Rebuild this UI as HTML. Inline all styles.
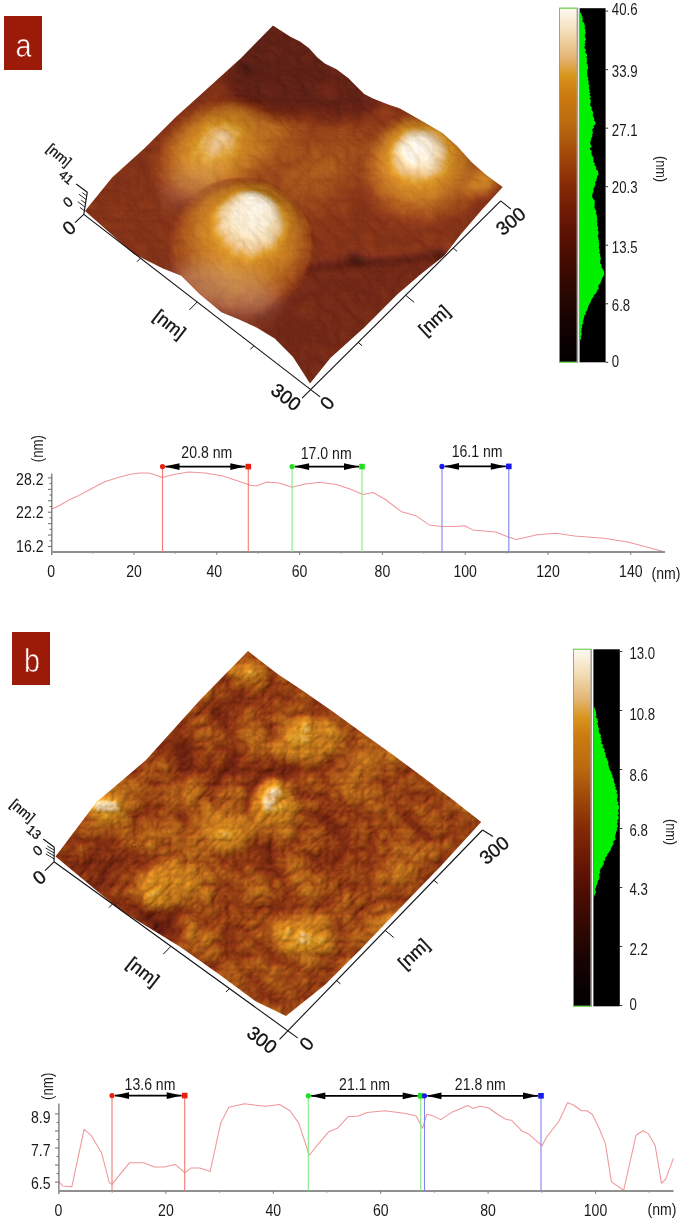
<!DOCTYPE html><html><head><meta charset="utf-8"><style>html,body{margin:0;padding:0;background:#fff}body{width:685px;height:1220px;overflow:hidden}svg{display:block;will-change:transform}text{font-family:"Liberation Sans",sans-serif}</style></head><body>
<svg width="685" height="1220" viewBox="0 0 685 1220">
<defs>
<linearGradient id="cbg" x1="0" y1="0" x2="0" y2="1">
<stop offset="0.000" stop-color="#fefaf2"/>
<stop offset="0.070" stop-color="#f2dcb4"/>
<stop offset="0.140" stop-color="#e4b474"/>
<stop offset="0.190" stop-color="#d8961c"/>
<stop offset="0.240" stop-color="#cc7c10"/>
<stop offset="0.330" stop-color="#bb6a10"/>
<stop offset="0.410" stop-color="#a24a0a"/>
<stop offset="0.500" stop-color="#862a06"/>
<stop offset="0.615" stop-color="#621404"/>
<stop offset="0.700" stop-color="#480c02"/>
<stop offset="0.785" stop-color="#300802"/>
<stop offset="0.870" stop-color="#180402"/>
<stop offset="0.960" stop-color="#080101"/>
<stop offset="1.000" stop-color="#040000"/>
</linearGradient>
<filter id="fa" x="0" y="0" width="685" height="1220" filterUnits="userSpaceOnUse" color-interpolation-filters="sRGB">
<feTurbulence type="turbulence" baseFrequency="0.05" numOctaves="4" seed="7" result="n"/>
<feColorMatrix in="n" type="matrix" values="1 0 0 0 0 1 0 0 0 0 1 0 0 0 0 0 0 0 0 1" result="ng"/>
<feTurbulence type="fractalNoise" baseFrequency="0.012 0.5" numOctaves="2" seed="10" result="s"/>
<feColorMatrix in="s" type="matrix" values="0 1 0 0 0 0 1 0 0 0 0 1 0 0 0 0 0 0 0 1" result="sg"/>
<feComposite in="SourceGraphic" in2="ng" operator="arithmetic" k1="0" k2="1" k3="0.07" k4="-0.0231" result="h1"/>
<feTurbulence type="turbulence" baseFrequency="0.08" numOctaves="2" seed="14" result="n2"/>
<feColorMatrix in="n2" type="matrix" values="1 0 0 0 0 1 0 0 0 0 1 0 0 0 0 0 0 0 0 1" result="ng2"/>
<feComposite in="h1" in2="ng2" operator="arithmetic" k1="0" k2="1" k3="0" k4="-0" result="h1b"/>
<feComposite in="h1b" in2="sg" operator="arithmetic" k1="0" k2="1" k3="0" k4="-0" result="h"/>
<feColorMatrix in="h" type="matrix" values="0 0 0 0 0 0 0 0 0 0 0 0 0 0 0 1 0 0 0 0" result="ha"/>
<feDiffuseLighting in="ha" surfaceScale="4" diffuseConstant="1" lighting-color="#ffffff" result="L"><feDistantLight azimuth="135" elevation="55"/></feDiffuseLighting>
<feComponentTransfer in="h" result="c"><feFuncR type="table" tableValues="0.016 0.025 0.038 0.056 0.073 0.091 0.116 0.144 0.172 0.199 0.227 0.255 0.282 0.312 0.342 0.372 0.403 0.433 0.464 0.495 0.525 0.556 0.586 0.617 0.648 0.678 0.709 0.737 0.756 0.774 0.793 0.814 0.838 0.861 0.885 0.906 0.925 0.945 0.962 0.979 0.996"/><feFuncG type="table" tableValues="0.000 0.002 0.005 0.008 0.012 0.015 0.019 0.024 0.029 0.033 0.038 0.042 0.047 0.056 0.066 0.075 0.090 0.108 0.127 0.146 0.165 0.200 0.234 0.269 0.306 0.345 0.384 0.420 0.439 0.459 0.478 0.517 0.568 0.624 0.682 0.739 0.796 0.852 0.896 0.938 0.980"/><feFuncB type="table" tableValues="0.000 0.002 0.004 0.005 0.007 0.008 0.008 0.008 0.008 0.008 0.008 0.008 0.008 0.010 0.012 0.015 0.017 0.018 0.020 0.022 0.024 0.028 0.032 0.037 0.042 0.050 0.057 0.063 0.063 0.063 0.063 0.077 0.100 0.213 0.386 0.509 0.598 0.688 0.775 0.862 0.949"/></feComponentTransfer>
<feComposite in="c" in2="L" operator="arithmetic" k1="0.9546" k2="0.1380" k3="0.3500" k4="-0.2117" result="m"/>
<feComponentTransfer in="m"><feFuncA type="linear" slope="0" intercept="1"/></feComponentTransfer>
</filter>
<filter id="fb" x="0" y="0" width="685" height="1220" filterUnits="userSpaceOnUse" color-interpolation-filters="sRGB">
<feTurbulence type="turbulence" baseFrequency="0.022" numOctaves="4" seed="11" result="n"/>
<feColorMatrix in="n" type="matrix" values="1 0 0 0 0 1 0 0 0 0 1 0 0 0 0 0 0 0 0 1" result="ng"/>
<feTurbulence type="fractalNoise" baseFrequency="0.012 0.5" numOctaves="2" seed="14" result="s"/>
<feColorMatrix in="s" type="matrix" values="0 1 0 0 0 0 1 0 0 0 0 1 0 0 0 0 0 0 0 1" result="sg"/>
<feComposite in="SourceGraphic" in2="ng" operator="arithmetic" k1="0" k2="1" k3="0.26" k4="-0.0858" result="h1"/>
<feTurbulence type="turbulence" baseFrequency="0.07" numOctaves="2" seed="18" result="n2"/>
<feColorMatrix in="n2" type="matrix" values="1 0 0 0 0 1 0 0 0 0 1 0 0 0 0 0 0 0 0 1" result="ng2"/>
<feComposite in="h1" in2="ng2" operator="arithmetic" k1="0" k2="1" k3="0.14" k4="-0.0462" result="h1b"/>
<feComposite in="h1b" in2="sg" operator="arithmetic" k1="0" k2="1" k3="0" k4="-0" result="h"/>
<feColorMatrix in="h" type="matrix" values="0 0 0 0 0 0 0 0 0 0 0 0 0 0 0 1 0 0 0 0" result="ha"/>
<feDiffuseLighting in="ha" surfaceScale="4" diffuseConstant="1" lighting-color="#ffffff" result="L"><feDistantLight azimuth="225" elevation="50"/></feDiffuseLighting>
<feComponentTransfer in="h" result="c"><feFuncR type="table" tableValues="0.016 0.025 0.038 0.056 0.073 0.091 0.116 0.144 0.172 0.199 0.227 0.255 0.282 0.312 0.342 0.372 0.403 0.433 0.464 0.495 0.525 0.556 0.586 0.617 0.648 0.678 0.709 0.737 0.756 0.774 0.793 0.814 0.838 0.861 0.885 0.906 0.925 0.945 0.962 0.979 0.996"/><feFuncG type="table" tableValues="0.000 0.002 0.005 0.008 0.012 0.015 0.019 0.024 0.029 0.033 0.038 0.042 0.047 0.056 0.066 0.075 0.090 0.108 0.127 0.146 0.165 0.200 0.234 0.269 0.306 0.345 0.384 0.420 0.439 0.459 0.478 0.517 0.568 0.624 0.682 0.739 0.796 0.852 0.896 0.938 0.980"/><feFuncB type="table" tableValues="0.000 0.002 0.004 0.005 0.007 0.008 0.008 0.008 0.008 0.008 0.008 0.008 0.008 0.010 0.012 0.015 0.017 0.018 0.020 0.022 0.024 0.028 0.032 0.037 0.042 0.050 0.057 0.063 0.063 0.063 0.063 0.077 0.100 0.213 0.386 0.509 0.598 0.688 0.775 0.862 0.949"/></feComponentTransfer>
<feComposite in="c" in2="L" operator="arithmetic" k1="1.2271" k2="0.0000" k3="0.2000" k4="-0.1032" result="m"/>
<feComponentTransfer in="m"><feFuncA type="linear" slope="0" intercept="1"/></feComponentTransfer>
</filter>
<filter id="stp" x="-50%" y="-50%" width="200%" height="200%" color-interpolation-filters="sRGB"><feTurbulence type="fractalNoise" baseFrequency="0.006 0.45" numOctaves="2" seed="4"/><feColorMatrix type="matrix" values="1 0 0 0 0 1 0 0 0 0 1 0 0 0 0 0 0 0 0 1"/></filter>
<filter id="b1" x="-100%" y="-100%" width="300%" height="300%"><feGaussianBlur stdDeviation="1"/></filter>
<filter id="b2" x="-100%" y="-100%" width="300%" height="300%"><feGaussianBlur stdDeviation="2"/></filter>
<filter id="b3" x="-100%" y="-100%" width="300%" height="300%"><feGaussianBlur stdDeviation="3"/></filter>
<filter id="b4" x="-100%" y="-100%" width="300%" height="300%"><feGaussianBlur stdDeviation="4"/></filter>
<filter id="b5" x="-100%" y="-100%" width="300%" height="300%"><feGaussianBlur stdDeviation="5"/></filter>
<filter id="b6" x="-100%" y="-100%" width="300%" height="300%"><feGaussianBlur stdDeviation="6"/></filter>
<filter id="b7" x="-100%" y="-100%" width="300%" height="300%"><feGaussianBlur stdDeviation="7"/></filter>
<filter id="b8" x="-100%" y="-100%" width="300%" height="300%"><feGaussianBlur stdDeviation="8"/></filter>
<filter id="b9" x="-100%" y="-100%" width="300%" height="300%"><feGaussianBlur stdDeviation="9"/></filter>
<filter id="b10" x="-100%" y="-100%" width="300%" height="300%"><feGaussianBlur stdDeviation="10"/></filter>
<filter id="b11" x="-100%" y="-100%" width="300%" height="300%"><feGaussianBlur stdDeviation="11"/></filter>
<filter id="b12" x="-100%" y="-100%" width="300%" height="300%"><feGaussianBlur stdDeviation="12"/></filter>
<filter id="b13" x="-100%" y="-100%" width="300%" height="300%"><feGaussianBlur stdDeviation="13"/></filter>
<filter id="b14" x="-100%" y="-100%" width="300%" height="300%"><feGaussianBlur stdDeviation="14"/></filter>
<filter id="b15" x="-100%" y="-100%" width="300%" height="300%"><feGaussianBlur stdDeviation="15"/></filter>
<filter id="b16" x="-100%" y="-100%" width="300%" height="300%"><feGaussianBlur stdDeviation="16"/></filter>
<filter id="b17" x="-100%" y="-100%" width="300%" height="300%"><feGaussianBlur stdDeviation="17"/></filter>
<filter id="b18" x="-100%" y="-100%" width="300%" height="300%"><feGaussianBlur stdDeviation="18"/></filter>
<filter id="b19" x="-100%" y="-100%" width="300%" height="300%"><feGaussianBlur stdDeviation="19"/></filter>
<filter id="b20" x="-100%" y="-100%" width="300%" height="300%"><feGaussianBlur stdDeviation="20"/></filter>
<filter id="b21" x="-100%" y="-100%" width="300%" height="300%"><feGaussianBlur stdDeviation="21"/></filter>
<filter id="b22" x="-100%" y="-100%" width="300%" height="300%"><feGaussianBlur stdDeviation="22"/></filter>
<filter id="b23" x="-100%" y="-100%" width="300%" height="300%"><feGaussianBlur stdDeviation="23"/></filter>
<filter id="b24" x="-100%" y="-100%" width="300%" height="300%"><feGaussianBlur stdDeviation="24"/></filter>
<filter id="b25" x="-100%" y="-100%" width="300%" height="300%"><feGaussianBlur stdDeviation="25"/></filter>
<filter id="b26" x="-100%" y="-100%" width="300%" height="300%"><feGaussianBlur stdDeviation="26"/></filter>
<filter id="b27" x="-100%" y="-100%" width="300%" height="300%"><feGaussianBlur stdDeviation="27"/></filter>
<filter id="b28" x="-100%" y="-100%" width="300%" height="300%"><feGaussianBlur stdDeviation="28"/></filter>
<filter id="b29" x="-100%" y="-100%" width="300%" height="300%"><feGaussianBlur stdDeviation="29"/></filter>
<filter id="b30" x="-100%" y="-100%" width="300%" height="300%"><feGaussianBlur stdDeviation="30"/></filter>
<clipPath id="ca"><polygon points="273.0,25.5 290.0,36.5 300.0,41.5 308.8,48.0 317.5,57.5 324.8,63.4 336.5,69.2 348.2,78.0 358.4,88.2 364.2,94.0 373.0,98.4 387.6,104.2 400.0,108.6 424.2,122.2 442.5,133.1 457.1,145.9 471.7,162.3 486.3,175.1 502.7,187.0 481.5,210.3 461.3,233.8 444.5,255.6 421.0,274.1 397.5,294.2 364.0,327.8 330.4,358.0 310.0,383.5 293.0,357.0 274.7,338.6 256.5,327.6 238.0,319.0 221.4,312.3 199.5,294.0 181.2,275.8 163.0,268.5 133.8,254.0 85.0,211.0 112.1,177.4 144.2,148.5 176.4,116.4 208.5,87.4 240.6,58.5"/></clipPath>
<clipPath id="cb"><polygon points="248.0,651.0 278.0,674.2 300.7,689.3 331.0,710.2 365.2,734.9 391.8,753.9 422.2,776.6 452.5,799.4 481.2,822.0 440.0,867.0 400.0,908.2 360.0,950.0 324.5,985.3 286.0,1016.0 255.5,1001.3 220.0,975.0 180.0,946.7 120.0,910.0 55.5,856.4 96.4,802.3 146.0,760.0 200.0,700.0"/></clipPath>
</defs>
<rect width="685" height="1220" fill="#fff"/>
<g clip-path="url(#ca)"><g filter="url(#fa)">
<rect x="60" y="0" width="470" height="400" fill="#787878"/>
<polygon points="70.0,215.0 240.0,45.0 255.0,62.0 140.0,175.0 100.0,228.0" fill="#737373" filter="url(#b8)"/>
<defs><radialGradient id="dg1" cx="0.5" cy="0.5" r="0.5" fx="0.5" fy="0.5"><stop offset="0" stop-color="#969696" stop-opacity="1.000"/><stop offset="0.1" stop-color="#969696" stop-opacity="0.976"/><stop offset="0.2" stop-color="#969696" stop-opacity="0.905"/><stop offset="0.3" stop-color="#969696" stop-opacity="0.794"/><stop offset="0.4" stop-color="#969696" stop-opacity="0.655"/><stop offset="0.5" stop-color="#969696" stop-opacity="0.500"/><stop offset="0.6" stop-color="#969696" stop-opacity="0.345"/><stop offset="0.7" stop-color="#969696" stop-opacity="0.206"/><stop offset="0.8" stop-color="#969696" stop-opacity="0.095"/><stop offset="0.9" stop-color="#969696" stop-opacity="0.024"/><stop offset="1" stop-color="#969696" stop-opacity="0.000"/></radialGradient></defs>
<ellipse cx="318" cy="170" rx="120" ry="62" fill="url(#dg1)" transform="rotate(-32 318 170)"/>
<defs><radialGradient id="dg2" cx="0.5" cy="0.5" r="0.5" fx="0.5" fy="0.5"><stop offset="0" stop-color="#adadad" stop-opacity="1.000"/><stop offset="0.4" stop-color="#a3a3a3" stop-opacity="0.900"/><stop offset="0.7" stop-color="#949494" stop-opacity="0.600"/><stop offset="1" stop-color="#858585" stop-opacity="0.000"/></radialGradient></defs>
<ellipse cx="242" cy="146" rx="100" ry="50" fill="url(#dg2)" transform="rotate(-25 242 146)"/>
<polygon points="273.0,5.0 385.0,98.0 360.0,116.0 290.0,114.0 240.0,104.0 222.0,62.0" fill="#575757" filter="url(#b8)"/>
<defs><radialGradient id="dg3" cx="0.5" cy="0.5" r="0.5" fx="0.5" fy="0.5"><stop offset="0" stop-color="#666666" stop-opacity="1.000"/><stop offset="0.1" stop-color="#666666" stop-opacity="0.976"/><stop offset="0.2" stop-color="#666666" stop-opacity="0.905"/><stop offset="0.3" stop-color="#666666" stop-opacity="0.794"/><stop offset="0.4" stop-color="#666666" stop-opacity="0.655"/><stop offset="0.5" stop-color="#666666" stop-opacity="0.500"/><stop offset="0.6" stop-color="#666666" stop-opacity="0.345"/><stop offset="0.7" stop-color="#666666" stop-opacity="0.206"/><stop offset="0.8" stop-color="#666666" stop-opacity="0.095"/><stop offset="0.9" stop-color="#666666" stop-opacity="0.024"/><stop offset="1" stop-color="#666666" stop-opacity="0.000"/></radialGradient></defs>
<ellipse cx="330" cy="88" rx="26" ry="16" fill="url(#dg3)" transform="rotate(-10 330 88)"/>
<polygon points="250.0,312.0 300.0,272.0 350.0,264.0 445.0,256.0 425.0,280.0 364.0,332.0 310.0,390.0 272.0,342.0" fill="#696969" filter="url(#b5)"/>
<polyline points="292,270 330,265 356,262 400,259 446,253" fill="none" stroke="#545454" stroke-width="7" filter="url(#b3)"/>
<polygon points="80.0,211.0 140.0,170.0 168.0,230.0 165.0,268.0 130.0,252.0" fill="#787878" filter="url(#b9)"/>
<defs><radialGradient id="dg4" cx="0.5" cy="0.5" r="0.5" fx="0.58" fy="0.42"><stop offset="0" stop-color="#e3e3e3" stop-opacity="1.000"/><stop offset="0.25" stop-color="#d4d4d4" stop-opacity="1.000"/><stop offset="0.5" stop-color="#bdbdbd" stop-opacity="0.900"/><stop offset="0.75" stop-color="#a8a8a8" stop-opacity="0.600"/><stop offset="1" stop-color="#999999" stop-opacity="0.000"/></radialGradient></defs>
<ellipse cx="214" cy="150" rx="70" ry="50" fill="url(#dg4)" transform="rotate(-30 214 150)"/>
<defs><radialGradient id="dg5" cx="0.5" cy="0.5" r="0.5" fx="0.6" fy="0.2"><stop offset="0" stop-color="#fefefe" stop-opacity="1.000"/><stop offset="0.24" stop-color="#f6f6f6" stop-opacity="1.000"/><stop offset="0.38" stop-color="#e3e3e3" stop-opacity="1.000"/><stop offset="0.5" stop-color="#c9c9c9" stop-opacity="1.000"/><stop offset="0.62" stop-color="#b2b2b2" stop-opacity="1.000"/><stop offset="0.77" stop-color="#9e9e9e" stop-opacity="1.000"/><stop offset="0.92" stop-color="#8f8f8f" stop-opacity="0.700"/><stop offset="1" stop-color="#858585" stop-opacity="0.000"/></radialGradient></defs>
<ellipse cx="242" cy="246" rx="74" ry="70" fill="url(#dg5)"/>
<defs><radialGradient id="dg6" cx="0.5" cy="0.5" r="0.5" fx="0.5" fy="0.28"><stop offset="0" stop-color="#fefefe" stop-opacity="1.000"/><stop offset="0.2" stop-color="#f6f6f6" stop-opacity="1.000"/><stop offset="0.34" stop-color="#e0e0e0" stop-opacity="1.000"/><stop offset="0.48" stop-color="#c7c7c7" stop-opacity="1.000"/><stop offset="0.62" stop-color="#b0b0b0" stop-opacity="0.950"/><stop offset="0.78" stop-color="#9c9c9c" stop-opacity="0.750"/><stop offset="0.9" stop-color="#8f8f8f" stop-opacity="0.400"/><stop offset="1" stop-color="#858585" stop-opacity="0.000"/></radialGradient></defs>
<ellipse cx="424" cy="170" rx="68" ry="62" fill="url(#dg6)" transform="rotate(-15 424 170)"/>
<defs><radialGradient id="dg7" cx="0.5" cy="0.5" r="0.5" fx="0.5" fy="0.5"><stop offset="0" stop-color="#b8b8b8" stop-opacity="1.000"/><stop offset="0.1" stop-color="#b8b8b8" stop-opacity="0.976"/><stop offset="0.2" stop-color="#b8b8b8" stop-opacity="0.905"/><stop offset="0.3" stop-color="#b8b8b8" stop-opacity="0.794"/><stop offset="0.4" stop-color="#b8b8b8" stop-opacity="0.655"/><stop offset="0.5" stop-color="#b8b8b8" stop-opacity="0.500"/><stop offset="0.6" stop-color="#b8b8b8" stop-opacity="0.345"/><stop offset="0.7" stop-color="#b8b8b8" stop-opacity="0.206"/><stop offset="0.8" stop-color="#b8b8b8" stop-opacity="0.095"/><stop offset="0.9" stop-color="#b8b8b8" stop-opacity="0.024"/><stop offset="1" stop-color="#b8b8b8" stop-opacity="0.000"/></radialGradient></defs>
<ellipse cx="484" cy="180" rx="34" ry="22" fill="url(#dg7)" transform="rotate(-30 484 180)"/>
<ellipse cx="356" cy="259" rx="9" ry="5" fill="#383838" filter="url(#b4)"/>
<ellipse cx="442" cy="254" rx="6" ry="4" fill="#474747" filter="url(#b3)"/>
<ellipse cx="248" cy="68" rx="9" ry="6" fill="#424242" filter="url(#b4)"/>
</g>
<ellipse cx="225" cy="290" rx="55" ry="24" fill="#ffffff" opacity="0.2" filter="url(#b9)" transform="rotate(15 225 290)"/>
<ellipse cx="195" cy="180" rx="38" ry="18" fill="#ffffff" opacity="0.12" filter="url(#b9)" transform="rotate(-35 195 180)"/>
</g>
<g clip-path="url(#cb)"><g filter="url(#fb)">
<rect x="40" y="630" width="460" height="400" fill="#919191"/>
<polygon points="140.0,752.0 200.0,735.0 250.0,758.0 300.0,768.0 290.0,790.0 240.0,792.0 190.0,782.0" fill="#787878" filter="url(#b9)"/>
<polygon points="190.0,700.0 245.0,690.0 255.0,725.0 200.0,730.0" fill="#808080" filter="url(#b9)"/>
<polygon points="225.0,830.0 275.0,840.0 290.0,880.0 270.0,880.0 240.0,860.0" fill="#787878" filter="url(#b9)"/>
<polygon points="310.0,805.0 340.0,815.0 340.0,875.0 315.0,870.0" fill="#7d7d7d" filter="url(#b8)"/>
<polygon points="135.0,910.0 180.0,912.0 185.0,940.0 150.0,938.0" fill="#6b6b6b" filter="url(#b6)"/>
<polygon points="380.0,800.0 440.0,815.0 430.0,850.0 390.0,840.0" fill="#858585" filter="url(#b9)"/>
<defs><radialGradient id="dg8" cx="0.5" cy="0.5" r="0.5" fx="0.5" fy="0.5"><stop offset="0" stop-color="#d1d1d1" stop-opacity="1.000"/><stop offset="0.6" stop-color="#c2c2c2" stop-opacity="0.850"/><stop offset="1" stop-color="#adadad" stop-opacity="0.000"/></radialGradient></defs>
<ellipse cx="310" cy="740" rx="45" ry="28" fill="url(#dg8)" transform="rotate(-15 310 740)"/>
<defs><radialGradient id="dg9" cx="0.5" cy="0.5" r="0.5" fx="0.5" fy="0.5"><stop offset="0" stop-color="#bdbdbd" stop-opacity="1.000"/><stop offset="0.6" stop-color="#b2b2b2" stop-opacity="0.850"/><stop offset="1" stop-color="#a3a3a3" stop-opacity="0.000"/></radialGradient></defs>
<ellipse cx="222" cy="830" rx="40" ry="30" fill="url(#dg9)" transform="rotate(-10 222 830)"/>
<defs><radialGradient id="dg10" cx="0.5" cy="0.5" r="0.5" fx="0.45" fy="0.25"><stop offset="0" stop-color="#ebebeb" stop-opacity="1.000"/><stop offset="0.35" stop-color="#d6d6d6" stop-opacity="0.950"/><stop offset="0.7" stop-color="#bdbdbd" stop-opacity="0.700"/><stop offset="1" stop-color="#a8a8a8" stop-opacity="0.000"/></radialGradient></defs>
<ellipse cx="275" cy="812" rx="30" ry="36" fill="url(#dg10)"/>
<defs><radialGradient id="dg11" cx="0.5" cy="0.5" r="0.5" fx="0.5" fy="0.5"><stop offset="0" stop-color="#dbdbdb" stop-opacity="1.000"/><stop offset="0.5" stop-color="#c7c7c7" stop-opacity="0.900"/><stop offset="1" stop-color="#adadad" stop-opacity="0.000"/></radialGradient></defs>
<ellipse cx="306" cy="938" rx="40" ry="32" fill="url(#dg11)"/>
<defs><radialGradient id="dg12" cx="0.5" cy="0.5" r="0.5" fx="0.45" fy="0.3"><stop offset="0" stop-color="#d6d6d6" stop-opacity="1.000"/><stop offset="0.4" stop-color="#c7c7c7" stop-opacity="0.900"/><stop offset="1" stop-color="#a8a8a8" stop-opacity="0.000"/></radialGradient></defs>
<ellipse cx="108" cy="818" rx="30" ry="26" fill="url(#dg12)"/>
<polygon points="55.0,858.0 120.0,845.0 150.0,880.0 140.0,905.0 95.0,895.0" fill="#7d7d7d" filter="url(#b9)"/>
<defs><radialGradient id="dg13" cx="0.5" cy="0.5" r="0.5" fx="0.5" fy="0.5"><stop offset="0" stop-color="#cccccc" stop-opacity="1.000"/><stop offset="0.6" stop-color="#bdbdbd" stop-opacity="0.850"/><stop offset="1" stop-color="#a8a8a8" stop-opacity="0.000"/></radialGradient></defs>
<ellipse cx="168" cy="885" rx="40" ry="30" fill="url(#dg13)" transform="rotate(-20 168 885)"/>
<defs><radialGradient id="dg14" cx="0.5" cy="0.5" r="0.5" fx="0.5" fy="0.5"><stop offset="0" stop-color="#c2c2c2" stop-opacity="1.000"/><stop offset="1" stop-color="#a8a8a8" stop-opacity="0.000"/></radialGradient></defs>
<ellipse cx="250" cy="672" rx="28" ry="20" fill="url(#dg14)"/>
<defs><radialGradient id="dg15" cx="0.5" cy="0.5" r="0.5" fx="0.5" fy="0.5"><stop offset="0" stop-color="#b8b8b8" stop-opacity="1.000"/><stop offset="1" stop-color="#a3a3a3" stop-opacity="0.000"/></radialGradient></defs>
<ellipse cx="400" cy="870" rx="46" ry="28" fill="url(#dg15)" transform="rotate(-30 400 870)"/>
<defs><radialGradient id="dg16" cx="0.5" cy="0.5" r="0.5" fx="0.5" fy="0.5"><stop offset="0" stop-color="#bdbdbd" stop-opacity="1.000"/><stop offset="1" stop-color="#a3a3a3" stop-opacity="0.000"/></radialGradient></defs>
<ellipse cx="360" cy="770" rx="30" ry="20" fill="url(#dg16)" transform="rotate(-20 360 770)"/>
<ellipse cx="103" cy="808" rx="10" ry="7" fill="#d6d6d6" filter="url(#b4)"/>
<ellipse cx="268" cy="803" rx="6" ry="5" fill="#e6e6e6" filter="url(#b2)"/>
<ellipse cx="304" cy="938" rx="5" ry="5" fill="#dbdbdb" filter="url(#b2)"/>
<ellipse cx="332" cy="734" rx="7" ry="5" fill="#d6d6d6" filter="url(#b3)"/>
</g></g>
<rect x="4" y="16" width="38" height="54" fill="#9b1a08"/>
<text x="23.5" y="57.3" font-size="34" fill="#fff" stroke="#9b1a08" stroke-width="0.7" text-anchor="middle" transform="translate(23.5 0) scale(0.85 1) translate(-23.5 0)">a</text>
<rect x="12" y="632" width="38" height="53" fill="#9b1a08"/>
<text x="32" y="672.5" font-size="34" fill="#fff" stroke="#9b1a08" stroke-width="0.7" text-anchor="middle" transform="translate(32 0) scale(0.85 1) translate(-32 0)">b</text>
<rect x="559.5" y="8.2" width="18.3" height="354.1" fill="url(#cbg)" stroke="#8c8c8c" stroke-width="0.8"/>
<line x1="559.5" y1="8.2" x2="577.8" y2="8.2" stroke="#7ce060" stroke-width="1.2"/>
<line x1="559.5" y1="362.3" x2="577.8" y2="362.3" stroke="#7ce060" stroke-width="1.2"/>
<line x1="577.3" y1="8.2" x2="577.3" y2="362.3" stroke="#a0a0a0" stroke-width="1.4"/>
<rect x="579.6" y="8.2" width="26" height="354.1" fill="#000"/>
<polygon points="579.6,12.5 580.6,12.5 581.2,13.8 581.7,15.2 582.4,16.6 582.4,17.9 583.2,19.2 582.0,20.6 583.1,22.0 584.4,23.3 584.4,24.9 585.3,26.5 584.4,28.0 585.5,29.6 585.1,30.9 585.6,32.2 585.6,33.5 584.6,34.9 584.9,36.2 585.0,37.5 586.1,38.8 585.8,40.1 584.6,41.4 585.8,42.8 584.5,44.1 585.3,45.4 584.4,46.7 584.4,48.3 586.2,49.8 585.2,51.4 585.5,52.9 587.1,54.5 587.0,55.9 586.1,57.3 587.4,58.7 586.7,60.1 587.1,61.5 586.4,63.0 587.8,64.4 587.5,65.8 588.1,67.2 588.1,68.6 587.1,70.0 587.4,71.4 587.2,72.8 587.3,74.3 587.3,75.7 587.8,77.1 588.5,78.5 587.6,79.9 588.9,81.3 588.4,82.8 588.5,84.2 589.6,85.6 589.1,86.9 588.9,88.2 589.4,89.5 589.9,90.8 588.9,92.1 590.7,93.4 589.1,94.7 590.5,96.0 590.8,97.3 589.5,98.6 591.0,99.9 590.4,101.2 590.9,102.5 590.1,103.9 590.3,105.2 590.8,106.6 592.4,108.0 591.2,109.3 592.4,110.7 592.9,112.0 593.3,113.4 592.6,114.8 593.0,116.1 593.7,117.5 594.5,118.9 593.7,120.2 595.3,121.6 595.7,123.0 595.3,124.5 593.2,126.1 594.3,127.6 592.2,129.2 592.4,130.5 592.7,131.9 593.1,133.2 591.8,134.6 592.7,135.9 591.8,137.3 591.2,138.7 591.0,140.0 590.6,141.3 590.3,142.7 590.4,144.0 591.2,145.4 591.7,146.7 590.1,148.1 589.8,149.4 591.9,150.8 591.4,152.2 591.6,153.6 591.7,155.0 592.7,156.4 593.5,157.8 593.3,159.2 593.6,160.6 593.3,162.0 595.2,163.4 594.1,164.8 595.4,166.1 596.5,167.5 595.7,168.9 597.3,170.2 598.2,171.6 598.1,172.9 598.8,174.3 597.1,175.9 597.2,177.4 596.2,179.0 596.9,180.3 595.4,181.6 595.2,182.9 595.6,184.2 594.9,185.5 594.6,186.8 593.5,188.4 593.4,190.0 593.6,191.4 592.9,192.8 592.3,194.2 592.2,195.6 592.2,197.1 593.0,198.7 594.5,200.2 594.9,201.8 594.7,203.3 594.7,204.7 594.6,206.1 594.4,207.6 594.9,209.0 596.1,210.4 596.4,211.8 595.7,213.2 596.7,214.6 596.9,216.1 596.9,217.5 597.1,218.9 597.4,220.3 596.8,221.7 597.6,223.2 597.0,224.6 597.5,226.0 598.1,227.4 598.1,228.8 597.5,230.2 598.8,231.7 598.4,233.1 598.4,234.5 597.5,235.9 598.5,237.3 598.1,238.7 598.9,240.1 598.6,241.5 599.3,243.0 599.1,244.4 599.4,245.8 598.7,247.2 599.3,248.6 599.5,250.0 599.8,251.3 599.1,252.6 600.1,253.9 600.3,255.2 600.1,256.5 600.8,257.8 600.9,259.1 600.2,260.4 600.4,261.7 599.8,263.0 601.2,264.3 601.5,265.6 601.4,267.2 602.6,268.7 603.4,270.3 604.2,271.8 604.0,273.4 604.5,274.7 603.4,276.0 602.9,277.3 601.9,278.6 601.6,279.9 601.2,281.2 600.5,282.5 600.3,283.8 598.6,285.1 598.5,286.4 598.6,287.7 598.6,289.0 596.9,290.5 596.8,292.1 595.8,293.6 593.8,295.2 593.6,296.7 592.6,298.0 591.6,299.3 591.1,300.6 590.8,301.9 589.9,303.2 589.2,304.5 588.3,305.8 588.4,307.1 587.6,308.4 587.4,309.7 586.7,311.0 585.4,312.3 586.2,313.8 584.1,315.4 584.3,316.9 583.7,318.5 583.4,320.0 582.6,321.4 583.7,322.8 582.6,324.2 581.7,325.6 582.5,326.9 581.3,328.3 581.8,329.7 581.2,331.1 581.3,332.5 581.9,333.8 581.5,335.2 580.6,336.5 581.1,337.9 580.7,339.2 580.0,340.6 579.5,341.9 580.1,343.4 579.7,345.0 579.6,345.0" fill="#00f000"/>
<line x1="605.6" y1="11.1" x2="608.1" y2="11.1" stroke="#333" stroke-width="1"/>
<text x="611.8" y="15.5" font-size="16.5" fill="#1a1a1a" transform="translate(611.8 0) scale(0.8 1) translate(-611.8 0)">40.6</text>
<line x1="605.6" y1="69.6333" x2="608.1" y2="69.6333" stroke="#333" stroke-width="1"/>
<text x="611.8" y="76.9" font-size="16.5" fill="#1a1a1a" transform="translate(611.8 0) scale(0.8 1) translate(-611.8 0)">33.9</text>
<line x1="605.6" y1="128.167" x2="608.1" y2="128.167" stroke="#333" stroke-width="1"/>
<text x="611.8" y="135.8" font-size="16.5" fill="#1a1a1a" transform="translate(611.8 0) scale(0.8 1) translate(-611.8 0)">27.1</text>
<line x1="605.6" y1="186.7" x2="608.1" y2="186.7" stroke="#333" stroke-width="1"/>
<text x="611.8" y="192.7" font-size="16.5" fill="#1a1a1a" transform="translate(611.8 0) scale(0.8 1) translate(-611.8 0)">20.3</text>
<line x1="605.6" y1="245.233" x2="608.1" y2="245.233" stroke="#333" stroke-width="1"/>
<text x="611.8" y="252.9" font-size="16.5" fill="#1a1a1a" transform="translate(611.8 0) scale(0.8 1) translate(-611.8 0)">13.5</text>
<line x1="605.6" y1="303.767" x2="608.1" y2="303.767" stroke="#333" stroke-width="1"/>
<text x="611.8" y="311.2" font-size="16.5" fill="#1a1a1a" transform="translate(611.8 0) scale(0.8 1) translate(-611.8 0)">6.8</text>
<line x1="605.6" y1="362.3" x2="608.1" y2="362.3" stroke="#333" stroke-width="1"/>
<text x="611.8" y="367.1" font-size="16.5" fill="#1a1a1a" transform="translate(611.8 0) scale(0.8 1) translate(-611.8 0)">0</text>
<text x="0" y="0" font-size="15" fill="#222" text-anchor="middle" transform="translate(656 169) rotate(90) scale(0.85 1)">(nm)</text>
<rect x="573.5" y="649.3" width="18.1" height="357" fill="url(#cbg)" stroke="#8c8c8c" stroke-width="0.8"/>
<line x1="573.5" y1="649.3" x2="591.6" y2="649.3" stroke="#7ce060" stroke-width="1.2"/>
<line x1="573.5" y1="1006.3" x2="591.6" y2="1006.3" stroke="#7ce060" stroke-width="1.2"/>
<line x1="591.1" y1="649.3" x2="591.1" y2="1006.3" stroke="#a0a0a0" stroke-width="1.4"/>
<rect x="593.4" y="649.3" width="26.4" height="357" fill="#000"/>
<polygon points="593.4,706.5 593.8,706.5 594.9,709.0 595.4,710.5 596.0,712.0 596.0,713.5 596.7,714.9 595.5,716.4 596.6,717.9 597.8,719.3 597.5,720.7 598.3,722.1 597.1,723.5 598.1,724.9 597.9,726.4 598.8,727.8 599.1,729.2 598.4,730.6 599.0,732.0 599.4,733.4 600.9,734.7 600.9,736.0 600.2,737.3 601.6,738.6 600.8,739.9 602.0,741.2 601.4,742.5 601.5,743.8 603.4,745.1 602.5,746.4 602.9,747.7 604.6,749.0 604.8,750.4 604.1,751.7 605.7,753.1 605.3,754.5 606.0,755.8 605.5,757.2 607.2,758.5 607.1,759.9 608.2,761.3 608.6,762.7 608.0,764.1 608.6,765.5 608.8,766.8 609.3,768.2 609.7,769.6 610.6,771.0 611.7,772.4 611.0,773.8 612.6,775.1 612.4,776.5 612.7,777.8 614.0,779.2 613.8,780.6 613.9,781.9 614.6,783.3 615.3,784.7 614.5,786.1 616.5,787.4 615.1,788.8 616.8,790.2 617.3,791.6 616.1,792.9 617.9,794.3 617.5,795.7 617.9,797.1 617.0,798.5 617.1,800.0 617.4,801.4 618.9,802.8 617.6,804.2 618.7,805.6 619.1,807.0 619.2,808.5 618.1,809.9 618.2,811.3 618.5,812.6 618.8,813.9 617.5,815.2 618.6,816.5 618.6,817.8 618.6,819.1 617.0,820.4 618.6,821.7 616.9,823.0 617.3,824.3 617.7,825.6 618.2,826.9 616.6,827.8 617.5,829.1 616.7,830.4 616.2,831.7 616.0,833.0 615.7,834.3 615.3,835.6 615.0,837.0 615.5,838.3 615.6,839.7 613.6,841.0 612.9,842.4 614.1,843.8 612.8,845.1 612.1,846.5 611.0,847.9 610.9,849.3 610.5,850.6 609.1,852.0 608.2,853.4 606.8,854.8 607.5,856.1 605.1,857.5 605.2,858.9 605.2,860.3 603.4,861.6 603.9,863.0 603.7,864.3 602.6,865.7 602.3,867.1 600.5,868.4 600.5,869.8 599.6,871.2 600.5,872.6 599.2,874.0 599.1,875.4 599.8,876.7 599.2,878.1 599.0,879.5 597.8,880.9 597.5,882.3 597.6,883.6 596.8,885.0 596.1,886.3 596.0,887.6 595.1,888.9 595.2,890.3 596.0,891.6 595.6,893.2 594.7,894.8 594.2,896.3 593.6,897.9 593.6,900.0 593.4,900.0" fill="#00f000"/>
<line x1="619.8" y1="651.5" x2="622.3" y2="651.5" stroke="#333" stroke-width="1"/>
<text x="629.4" y="658.6" font-size="16.5" fill="#1a1a1a" transform="translate(629.4 0) scale(0.8 1) translate(-629.4 0)">13.0</text>
<line x1="619.8" y1="710.5" x2="622.3" y2="710.5" stroke="#333" stroke-width="1"/>
<text x="629.4" y="719.9" font-size="16.5" fill="#1a1a1a" transform="translate(629.4 0) scale(0.8 1) translate(-629.4 0)">10.8</text>
<line x1="619.8" y1="769.5" x2="622.3" y2="769.5" stroke="#333" stroke-width="1"/>
<text x="629.4" y="780.7" font-size="16.5" fill="#1a1a1a" transform="translate(629.4 0) scale(0.8 1) translate(-629.4 0)">8.6</text>
<line x1="619.8" y1="828.5" x2="622.3" y2="828.5" stroke="#333" stroke-width="1"/>
<text x="629.4" y="836.5" font-size="16.5" fill="#1a1a1a" transform="translate(629.4 0) scale(0.8 1) translate(-629.4 0)">6.8</text>
<line x1="619.8" y1="887.5" x2="622.3" y2="887.5" stroke="#333" stroke-width="1"/>
<text x="629.4" y="895.4" font-size="16.5" fill="#1a1a1a" transform="translate(629.4 0) scale(0.8 1) translate(-629.4 0)">4.3</text>
<line x1="619.8" y1="946.5" x2="622.3" y2="946.5" stroke="#333" stroke-width="1"/>
<text x="629.4" y="955.5" font-size="16.5" fill="#1a1a1a" transform="translate(629.4 0) scale(0.8 1) translate(-629.4 0)">2.2</text>
<line x1="619.8" y1="1005.5" x2="622.3" y2="1005.5" stroke="#333" stroke-width="1"/>
<text x="629.4" y="1010.1" font-size="16.5" fill="#1a1a1a" transform="translate(629.4 0) scale(0.8 1) translate(-629.4 0)">0</text>
<text x="0" y="0" font-size="15" fill="#222" text-anchor="middle" transform="translate(666 832) rotate(90) scale(0.85 1)">(nm)</text>
<line x1="83.8" y1="214.4" x2="320.097" y2="396.936" stroke="#111" stroke-width="1.1"/>
<line x1="500.7" y1="200.9" x2="302.083" y2="398.054" stroke="#111" stroke-width="1.1"/>
<line x1="140.5" y1="258.2" x2="137" y2="261.75" stroke="#111" stroke-width="1"/>
<line x1="358.125" y1="342.425" x2="361.975" y2="345.625" stroke="#111" stroke-width="1"/>
<line x1="197.2" y1="302" x2="189.5" y2="309.81" stroke="#111" stroke-width="1"/>
<line x1="405.65" y1="295.25" x2="414.12" y2="302.29" stroke="#111" stroke-width="1"/>
<line x1="253.9" y1="345.8" x2="250.4" y2="349.35" stroke="#111" stroke-width="1"/>
<line x1="453.175" y1="248.075" x2="457.025" y2="251.275" stroke="#111" stroke-width="1"/>
<line x1="500.7" y1="200.9" x2="510.9" y2="209.1" stroke="#111" stroke-width="1.1"/>
<line x1="83.8" y1="214.4" x2="87.3" y2="192.2" stroke="#111" stroke-width="1.1"/>
<line x1="87.3" y1="192.2" x2="76.2" y2="184" stroke="#111" stroke-width="1.1"/>
<line x1="86.7167" y1="195.9" x2="82.3167" y2="192.6" stroke="#111" stroke-width="0.9"/>
<line x1="86.1333" y1="199.6" x2="78.9333" y2="194.2" stroke="#111" stroke-width="0.9"/>
<line x1="85.55" y1="203.3" x2="81.15" y2="200" stroke="#111" stroke-width="0.9"/>
<line x1="84.9667" y1="207" x2="77.7667" y2="201.6" stroke="#111" stroke-width="0.9"/>
<line x1="84.3833" y1="210.7" x2="79.9833" y2="207.4" stroke="#111" stroke-width="0.9"/>
<line x1="83.8" y1="214.4" x2="75" y2="222.6" stroke="#111" stroke-width="1.1"/>
<text x="0" y="0" dy="0.36em" font-size="19" fill="#111" stroke="#111" stroke-width="0.35" text-anchor="middle" transform="translate(69 227.5) rotate(-40)">0</text>
<text x="0" y="0" dy="0.36em" font-size="14" fill="#111" stroke="#111" stroke-width="0.3" text-anchor="middle" transform="translate(67.7 201.8) rotate(-40)">0</text>
<text x="0" y="0" dy="0.36em" font-size="13" fill="#111" stroke="#111" stroke-width="0.3" text-anchor="middle" transform="translate(66.6 177) rotate(40)">41</text>
<text x="0" y="0" dy="0.36em" font-size="14" fill="#111" stroke="#111" stroke-width="0.3" text-anchor="middle" transform="translate(59.3 154.9) rotate(40)">[nm]</text>
<text x="0" y="0" dy="0.36em" font-size="19" fill="#111" stroke="#111" stroke-width="0.35" text-anchor="middle" transform="translate(286.3 396.8) rotate(38)">300</text>
<text x="0" y="0" dy="0.36em" font-size="19" fill="#111" stroke="#111" stroke-width="0.35" text-anchor="middle" transform="translate(327 402.7) rotate(-50)">0</text>
<text x="0" y="0" dy="0.36em" font-size="19" fill="#111" stroke="#111" stroke-width="0.35" text-anchor="middle" transform="translate(510.6 221) rotate(-40)">300</text>
<text x="0" y="0" dy="0.36em" font-size="18" fill="#111" stroke="#111" stroke-width="0.35" text-anchor="middle" transform="translate(170 324) rotate(38)">[nm]</text>
<text x="0" y="0" dy="0.36em" font-size="18" fill="#111" stroke="#111" stroke-width="0.35" text-anchor="middle" transform="translate(434 320) rotate(-43)">[nm]</text>
<line x1="54" y1="861.8" x2="297.627" y2="1037.83" stroke="#111" stroke-width="1.1"/>
<line x1="482.5" y1="830" x2="279.549" y2="1039.42" stroke="#111" stroke-width="1.1"/>
<line x1="112.475" y1="904.05" x2="108.975" y2="907.6" stroke="#111" stroke-width="1"/>
<line x1="336.55" y1="980.6" x2="340.4" y2="983.8" stroke="#111" stroke-width="1"/>
<line x1="170.95" y1="946.3" x2="163.25" y2="954.11" stroke="#111" stroke-width="1"/>
<line x1="385.2" y1="930.4" x2="393.67" y2="937.44" stroke="#111" stroke-width="1"/>
<line x1="229.425" y1="988.55" x2="225.925" y2="992.1" stroke="#111" stroke-width="1"/>
<line x1="433.85" y1="880.2" x2="437.7" y2="883.4" stroke="#111" stroke-width="1"/>
<line x1="482.5" y1="830" x2="493" y2="836.5" stroke="#111" stroke-width="1.1"/>
<line x1="54" y1="861.8" x2="54.3" y2="847.2" stroke="#111" stroke-width="1.1"/>
<line x1="54.3" y1="847.2" x2="43.2" y2="839" stroke="#111" stroke-width="1.1"/>
<line x1="54.2" y1="850.12" x2="47.4" y2="846.12" stroke="#111" stroke-width="0.9"/>
<line x1="54.2" y1="853.04" x2="45.7" y2="848.04" stroke="#111" stroke-width="0.9"/>
<line x1="54.2" y1="855.96" x2="47.4" y2="851.96" stroke="#111" stroke-width="0.9"/>
<line x1="54.2" y1="858.88" x2="45.7" y2="853.88" stroke="#111" stroke-width="0.9"/>
<line x1="54" y1="861.8" x2="45" y2="870.6" stroke="#111" stroke-width="1.1"/>
<text x="0" y="0" dy="0.36em" font-size="19" fill="#111" stroke="#111" stroke-width="0.35" text-anchor="middle" transform="translate(39.1 877) rotate(-40)">0</text>
<text x="0" y="0" dy="0.36em" font-size="14" fill="#111" stroke="#111" stroke-width="0.3" text-anchor="middle" transform="translate(37.6 850.5) rotate(-40)">0</text>
<text x="0" y="0" dy="0.36em" font-size="13" fill="#111" stroke="#111" stroke-width="0.3" text-anchor="middle" transform="translate(34.1 832) rotate(40)">13</text>
<text x="0" y="0" dy="0.36em" font-size="14" fill="#111" stroke="#111" stroke-width="0.3" text-anchor="middle" transform="translate(22.8 810.4) rotate(40)">[nm]</text>
<text x="0" y="0" dy="0.36em" font-size="19" fill="#111" stroke="#111" stroke-width="0.35" text-anchor="middle" transform="translate(262.2 1039.5) rotate(38)">300</text>
<text x="0" y="0" dy="0.36em" font-size="19" fill="#111" stroke="#111" stroke-width="0.35" text-anchor="middle" transform="translate(306.5 1043.6) rotate(-50)">0</text>
<text x="0" y="0" dy="0.36em" font-size="19" fill="#111" stroke="#111" stroke-width="0.35" text-anchor="middle" transform="translate(494 850) rotate(-40)">300</text>
<text x="0" y="0" dy="0.36em" font-size="18" fill="#111" stroke="#111" stroke-width="0.35" text-anchor="middle" transform="translate(143.4 971.4) rotate(38)">[nm]</text>
<text x="0" y="0" dy="0.36em" font-size="18" fill="#111" stroke="#111" stroke-width="0.35" text-anchor="middle" transform="translate(413.4 953.6) rotate(-43)">[nm]</text>
<polyline points="51.9,508.9 60.0,505.2 70.0,499.4 76.6,496.6 90.0,489.5 104.7,481.8 118.0,477.5 130.3,474.2 140.0,472.9 148.2,473.1 153.3,474.2 162.2,477.5 175.0,474.2 189.0,472.1 205.0,473.0 221.8,475.8 235.0,480.0 250.4,485.2 256.5,486.0 266.7,481.9 279.0,483.1 292.0,487.2 305.0,484.0 320.0,482.3 336.2,484.4 350.0,489.0 362.8,494.6 373.0,492.5 385.3,499.5 401.6,511.8 416.6,516.1 429.1,524.9 441.6,526.5 454.1,526.5 464.5,525.7 472.8,529.9 495.7,531.9 509.0,537.3 516.5,539.4 537.3,534.8 556.0,533.2 574.7,536.1 603.9,538.2 628.8,542.3 649.6,547.7 665.0,551.9" fill="none" stroke="#f0969a" stroke-width="1.05" stroke-linejoin="round"/>
<line x1="51.8" y1="473.5" x2="51.8" y2="555" stroke="#6a6a6a" stroke-width="1.2"/>
<line x1="51.8" y1="552" x2="665" y2="552" stroke="#909090" stroke-width="1.8"/>
<line x1="47.9" y1="477.9" x2="51.8" y2="477.9" stroke="#6a6a6a" stroke-width="1"/>
<line x1="49.5" y1="483.617" x2="51.8" y2="483.617" stroke="#6a6a6a" stroke-width="1"/>
<line x1="47.9" y1="489.333" x2="51.8" y2="489.333" stroke="#6a6a6a" stroke-width="1"/>
<line x1="49.5" y1="495.05" x2="51.8" y2="495.05" stroke="#6a6a6a" stroke-width="1"/>
<line x1="47.9" y1="500.767" x2="51.8" y2="500.767" stroke="#6a6a6a" stroke-width="1"/>
<line x1="49.5" y1="506.483" x2="51.8" y2="506.483" stroke="#6a6a6a" stroke-width="1"/>
<line x1="47.9" y1="512.2" x2="51.8" y2="512.2" stroke="#6a6a6a" stroke-width="1"/>
<line x1="49.5" y1="517.917" x2="51.8" y2="517.917" stroke="#6a6a6a" stroke-width="1"/>
<line x1="47.9" y1="523.633" x2="51.8" y2="523.633" stroke="#6a6a6a" stroke-width="1"/>
<line x1="49.5" y1="529.35" x2="51.8" y2="529.35" stroke="#6a6a6a" stroke-width="1"/>
<line x1="47.9" y1="535.067" x2="51.8" y2="535.067" stroke="#6a6a6a" stroke-width="1"/>
<line x1="49.5" y1="540.783" x2="51.8" y2="540.783" stroke="#6a6a6a" stroke-width="1"/>
<line x1="47.9" y1="546.5" x2="51.8" y2="546.5" stroke="#6a6a6a" stroke-width="1"/>
<text x="0" y="0" font-size="16" fill="#1a1a1a" text-anchor="middle" transform="translate(51.2 576.5) scale(0.88 1)">0</text>
<line x1="92.6" y1="552" x2="92.6" y2="553.8" stroke="#999" stroke-width="1"/>
<line x1="134" y1="552" x2="134" y2="554.8" stroke="#777" stroke-width="1"/>
<text x="0" y="0" font-size="16" fill="#1a1a1a" text-anchor="middle" transform="translate(134 576.5) scale(0.88 1)">20</text>
<line x1="175.4" y1="552" x2="175.4" y2="553.8" stroke="#999" stroke-width="1"/>
<line x1="216.8" y1="552" x2="216.8" y2="554.8" stroke="#777" stroke-width="1"/>
<text x="0" y="0" font-size="16" fill="#1a1a1a" text-anchor="middle" transform="translate(214.2 576.5) scale(0.88 1)">40</text>
<line x1="258.2" y1="552" x2="258.2" y2="553.8" stroke="#999" stroke-width="1"/>
<line x1="299.6" y1="552" x2="299.6" y2="554.8" stroke="#777" stroke-width="1"/>
<text x="0" y="0" font-size="16" fill="#1a1a1a" text-anchor="middle" transform="translate(299.6 576.5) scale(0.88 1)">60</text>
<line x1="341" y1="552" x2="341" y2="553.8" stroke="#999" stroke-width="1"/>
<line x1="382.4" y1="552" x2="382.4" y2="554.8" stroke="#777" stroke-width="1"/>
<text x="0" y="0" font-size="16" fill="#1a1a1a" text-anchor="middle" transform="translate(382.4 576.5) scale(0.88 1)">80</text>
<line x1="423.8" y1="552" x2="423.8" y2="553.8" stroke="#999" stroke-width="1"/>
<line x1="465.2" y1="552" x2="465.2" y2="554.8" stroke="#777" stroke-width="1"/>
<text x="0" y="0" font-size="16" fill="#1a1a1a" text-anchor="middle" transform="translate(465.2 576.5) scale(0.88 1)">100</text>
<line x1="506.6" y1="552" x2="506.6" y2="553.8" stroke="#999" stroke-width="1"/>
<line x1="548" y1="552" x2="548" y2="554.8" stroke="#777" stroke-width="1"/>
<text x="0" y="0" font-size="16" fill="#1a1a1a" text-anchor="middle" transform="translate(548 576.5) scale(0.88 1)">120</text>
<line x1="589.4" y1="552" x2="589.4" y2="553.8" stroke="#999" stroke-width="1"/>
<line x1="630.8" y1="552" x2="630.8" y2="554.8" stroke="#777" stroke-width="1"/>
<text x="0" y="0" font-size="16" fill="#1a1a1a" text-anchor="middle" transform="translate(630.8 576.5) scale(0.88 1)">140</text>
<text x="0" y="0" font-size="16" fill="#1a1a1a" text-anchor="end" transform="translate(43.5 485) scale(0.88 1)">28.2</text>
<text x="0" y="0" font-size="16" fill="#1a1a1a" text-anchor="end" transform="translate(43.5 517.9) scale(0.88 1)">22.2</text>
<text x="0" y="0" font-size="16" fill="#1a1a1a" text-anchor="end" transform="translate(43.5 551.5) scale(0.88 1)">16.2</text>
<text x="0" y="0" font-size="16" fill="#1a1a1a" text-anchor="middle" transform="translate(666 578.5) scale(0.88 1)">(nm)</text>
<line x1="162.5" y1="466.6" x2="162.5" y2="552" stroke="#f27a72" stroke-width="1.1"/>
<line x1="248.3" y1="466.6" x2="248.3" y2="552" stroke="#f27a72" stroke-width="1.1"/>
<line x1="165.5" y1="466.6" x2="245.3" y2="466.6" stroke="#000" stroke-width="1.7"/>
<polygon points="164.5,466.6 179.5,463.2 179.5,470" fill="#000"/>
<polygon points="245.3,466.6 230.3,463.2 230.3,470" fill="#000"/>
<circle cx="162.5" cy="466.6" r="2.6" fill="#e8200c"/>
<rect x="245.5" y="463.8" width="5.6" height="5.6" fill="#e8200c"/>
<text x="0" y="0" font-size="16" fill="#1a1a1a" text-anchor="middle" transform="translate(206.8 457.5) scale(0.88 1)">20.8 nm</text>
<line x1="292.1" y1="466.6" x2="292.1" y2="552" stroke="#84e884" stroke-width="1.1"/>
<line x1="362" y1="466.6" x2="362" y2="552" stroke="#84e884" stroke-width="1.1"/>
<line x1="295.1" y1="466.6" x2="359" y2="466.6" stroke="#000" stroke-width="1.7"/>
<polygon points="294.1,466.6 309.1,463.2 309.1,470" fill="#000"/>
<polygon points="359,466.6 344,463.2 344,470" fill="#000"/>
<circle cx="292.1" cy="466.6" r="2.6" fill="#1ee01e"/>
<rect x="359.2" y="463.8" width="5.6" height="5.6" fill="#1ee01e"/>
<text x="0" y="0" font-size="16" fill="#1a1a1a" text-anchor="middle" transform="translate(326.2 459.3) scale(0.88 1)">17.0 nm</text>
<line x1="442" y1="466.4" x2="442" y2="552" stroke="#8282f0" stroke-width="1.1"/>
<line x1="508.8" y1="466.4" x2="508.8" y2="552" stroke="#8282f0" stroke-width="1.1"/>
<line x1="445" y1="466.4" x2="505.8" y2="466.4" stroke="#000" stroke-width="1.7"/>
<polygon points="444,466.4 459,463 459,469.8" fill="#000"/>
<polygon points="505.8,466.4 490.8,463 490.8,469.8" fill="#000"/>
<circle cx="442" cy="466.4" r="2.6" fill="#1a1ae8"/>
<rect x="506" y="463.6" width="5.6" height="5.6" fill="#1a1ae8"/>
<text x="0" y="0" font-size="16" fill="#1a1a1a" text-anchor="middle" transform="translate(477.1 457.2) scale(0.88 1)">16.1 nm</text>
<polyline points="58.9,1181.9 63.0,1186.0 71.8,1186.8 84.1,1129.4 91.1,1135.3 101.6,1152.9 109.3,1182.6 112.0,1184.4 119.0,1175.6 129.6,1162.7 143.7,1162.7 154.2,1166.9 164.7,1166.9 175.2,1164.4 185.0,1172.8 191.0,1167.9 199.7,1167.9 210.2,1171.4 220.7,1123.1 228.8,1107.3 244.5,1103.8 265.5,1106.3 279.6,1104.5 290.0,1110.8 298.8,1123.1 309.3,1155.3 318.1,1144.1 328.6,1131.8 337.4,1128.3 347.9,1116.8 358.4,1116.1 367.2,1112.6 384.7,1110.8 405.7,1113.6 416.2,1116.1 422.5,1128.3 426.7,1114.3 433.7,1116.1 440.7,1119.6 451.3,1112.6 455.5,1110.8 467.8,1105.5 473.0,1108.4 480.0,1106.3 488.8,1108.0 497.6,1114.3 506.3,1119.6 511.6,1120.3 522.1,1131.1 529.1,1134.3 542.0,1145.8 546.6,1137.1 558.9,1121.3 567.6,1102.7 572.9,1104.8 581.6,1110.8 586.9,1110.8 592.2,1114.3 599.2,1128.3 605.5,1144.1 611.4,1181.9 623.7,1190.3 636.0,1135.3 643.0,1130.8 648.2,1133.6 655.2,1145.8 661.5,1183.3 665.7,1179.1 673.5,1158.1" fill="none" stroke="#f0969a" stroke-width="1.05" stroke-linejoin="round"/>
<line x1="58.9" y1="1103.5" x2="58.9" y2="1194" stroke="#6a6a6a" stroke-width="1.2"/>
<line x1="58.9" y1="1191" x2="673.5" y2="1191" stroke="#909090" stroke-width="1.8"/>
<line x1="55" y1="1113.9" x2="58.9" y2="1113.9" stroke="#6a6a6a" stroke-width="1"/>
<line x1="56.6" y1="1122.43" x2="58.9" y2="1122.43" stroke="#6a6a6a" stroke-width="1"/>
<line x1="55" y1="1130.95" x2="58.9" y2="1130.95" stroke="#6a6a6a" stroke-width="1"/>
<line x1="56.6" y1="1139.47" x2="58.9" y2="1139.47" stroke="#6a6a6a" stroke-width="1"/>
<line x1="55" y1="1148" x2="58.9" y2="1148" stroke="#6a6a6a" stroke-width="1"/>
<line x1="56.6" y1="1156.53" x2="58.9" y2="1156.53" stroke="#6a6a6a" stroke-width="1"/>
<line x1="55" y1="1165.05" x2="58.9" y2="1165.05" stroke="#6a6a6a" stroke-width="1"/>
<line x1="56.6" y1="1173.57" x2="58.9" y2="1173.57" stroke="#6a6a6a" stroke-width="1"/>
<line x1="55" y1="1182.1" x2="58.9" y2="1182.1" stroke="#6a6a6a" stroke-width="1"/>
<text x="0" y="0" font-size="16" fill="#1a1a1a" text-anchor="middle" transform="translate(58.5 1215.5) scale(0.88 1)">0</text>
<line x1="112.2" y1="1191" x2="112.2" y2="1192.8" stroke="#999" stroke-width="1"/>
<line x1="165.9" y1="1191" x2="165.9" y2="1193.8" stroke="#777" stroke-width="1"/>
<text x="0" y="0" font-size="16" fill="#1a1a1a" text-anchor="middle" transform="translate(165.9 1215.5) scale(0.88 1)">20</text>
<line x1="219.6" y1="1191" x2="219.6" y2="1192.8" stroke="#999" stroke-width="1"/>
<line x1="273.3" y1="1191" x2="273.3" y2="1193.8" stroke="#777" stroke-width="1"/>
<text x="0" y="0" font-size="16" fill="#1a1a1a" text-anchor="middle" transform="translate(273.3 1215.5) scale(0.88 1)">40</text>
<line x1="327" y1="1191" x2="327" y2="1192.8" stroke="#999" stroke-width="1"/>
<line x1="380.7" y1="1191" x2="380.7" y2="1193.8" stroke="#777" stroke-width="1"/>
<text x="0" y="0" font-size="16" fill="#1a1a1a" text-anchor="middle" transform="translate(380.7 1215.5) scale(0.88 1)">60</text>
<line x1="434.4" y1="1191" x2="434.4" y2="1192.8" stroke="#999" stroke-width="1"/>
<line x1="488.1" y1="1191" x2="488.1" y2="1193.8" stroke="#777" stroke-width="1"/>
<text x="0" y="0" font-size="16" fill="#1a1a1a" text-anchor="middle" transform="translate(488.1 1215.5) scale(0.88 1)">80</text>
<line x1="541.8" y1="1191" x2="541.8" y2="1192.8" stroke="#999" stroke-width="1"/>
<line x1="595.5" y1="1191" x2="595.5" y2="1193.8" stroke="#777" stroke-width="1"/>
<text x="0" y="0" font-size="16" fill="#1a1a1a" text-anchor="middle" transform="translate(595.5 1215.5) scale(0.88 1)">100</text>
<line x1="649.2" y1="1191" x2="649.2" y2="1192.8" stroke="#999" stroke-width="1"/>
<text x="0" y="0" font-size="16" fill="#1a1a1a" text-anchor="end" transform="translate(50.6 1122.8) scale(0.88 1)">8.9</text>
<text x="0" y="0" font-size="16" fill="#1a1a1a" text-anchor="end" transform="translate(50.6 1155.9) scale(0.88 1)">7.7</text>
<text x="0" y="0" font-size="16" fill="#1a1a1a" text-anchor="end" transform="translate(50.6 1189.3) scale(0.88 1)">6.5</text>
<text x="0" y="0" font-size="16" fill="#1a1a1a" text-anchor="middle" transform="translate(662 1214.5) scale(0.88 1)">(nm)</text>
<line x1="112" y1="1095.6" x2="112" y2="1191" stroke="#f27a72" stroke-width="1.1"/>
<line x1="184.7" y1="1095.6" x2="184.7" y2="1191" stroke="#f27a72" stroke-width="1.1"/>
<line x1="115" y1="1095.6" x2="181.7" y2="1095.6" stroke="#000" stroke-width="1.7"/>
<polygon points="114,1095.6 129,1092.2 129,1099" fill="#000"/>
<polygon points="181.7,1095.6 166.7,1092.2 166.7,1099" fill="#000"/>
<circle cx="112" cy="1095.6" r="2.6" fill="#e8200c"/>
<rect x="181.9" y="1092.8" width="5.6" height="5.6" fill="#e8200c"/>
<text x="0" y="0" font-size="16" fill="#1a1a1a" text-anchor="middle" transform="translate(150 1089.6) scale(0.88 1)">13.6 nm</text>
<line x1="308.3" y1="1095.8" x2="308.3" y2="1191" stroke="#84e884" stroke-width="1.1"/>
<line x1="420.7" y1="1095.8" x2="420.7" y2="1191" stroke="#84e884" stroke-width="1.1"/>
<line x1="311.3" y1="1095.8" x2="417.7" y2="1095.8" stroke="#000" stroke-width="1.7"/>
<polygon points="310.3,1095.8 325.3,1092.4 325.3,1099.2" fill="#000"/>
<polygon points="417.7,1095.8 402.7,1092.4 402.7,1099.2" fill="#000"/>
<circle cx="308.3" cy="1095.8" r="2.6" fill="#1ee01e"/>
<rect x="417.9" y="1093" width="5.6" height="5.6" fill="#1ee01e"/>
<text x="0" y="0" font-size="16" fill="#1a1a1a" text-anchor="middle" transform="translate(364.5 1089.5) scale(0.88 1)">21.1 nm</text>
<line x1="424.5" y1="1095.8" x2="424.5" y2="1191" stroke="#8282f0" stroke-width="1.1"/>
<line x1="541" y1="1095.8" x2="541" y2="1191" stroke="#8282f0" stroke-width="1.1"/>
<line x1="427.5" y1="1095.8" x2="538" y2="1095.8" stroke="#000" stroke-width="1.7"/>
<polygon points="426.5,1095.8 441.5,1092.4 441.5,1099.2" fill="#000"/>
<polygon points="538,1095.8 523,1092.4 523,1099.2" fill="#000"/>
<circle cx="424.5" cy="1095.8" r="2.6" fill="#1a1ae8"/>
<rect x="538.2" y="1093" width="5.6" height="5.6" fill="#1a1ae8"/>
<text x="0" y="0" font-size="16" fill="#1a1a1a" text-anchor="middle" transform="translate(480.3 1089.5) scale(0.88 1)">21.8 nm</text>
<text x="0" y="0" font-size="16" fill="#1a1a1a" text-anchor="middle" transform="translate(42.6 448.6) rotate(-90) scale(0.83 1)">(nm)</text>
<text x="0" y="0" font-size="16" fill="#1a1a1a" text-anchor="middle" transform="translate(53 1086.3) rotate(-90) scale(0.83 1)">(nm)</text>
</svg></body></html>
